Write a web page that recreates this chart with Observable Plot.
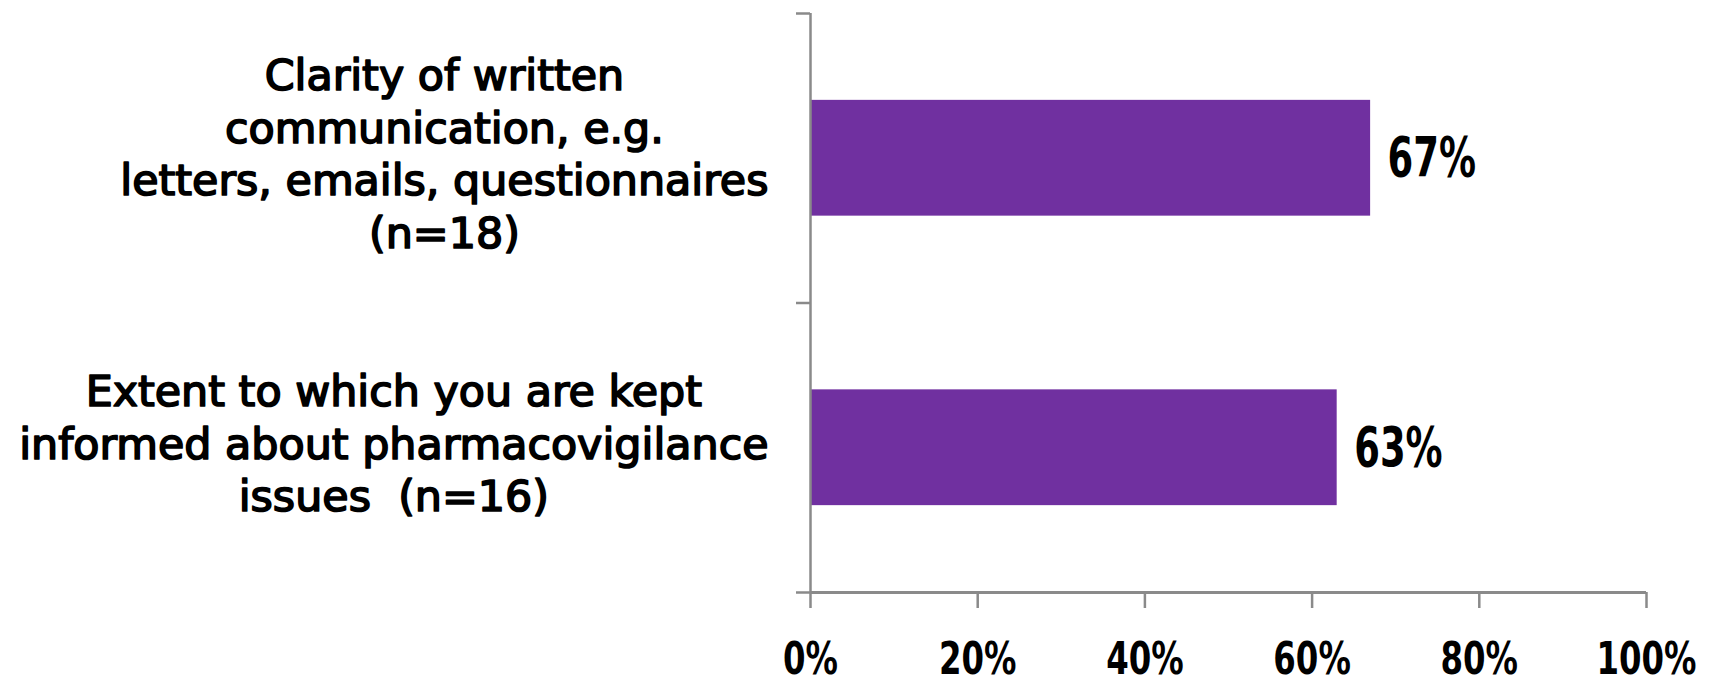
<!DOCTYPE html>
<html>
<head>
<meta charset="utf-8">
<script src="https://cdn.jsdelivr.net/npm/d3@7"></script>
<script src="https://cdn.jsdelivr.net/npm/@observablehq/plot@0.6"></script>
<style>
  html, body { margin: 0; padding: 0; background: #fff; }
</style>
</head>
<body>
<div id="chart"></div>
<script>
// Survey items (one per row) and the share of respondents for each
const categories = [
  "Clarity of written\ncommunication, e.g.\nletters, emails, questionnaires\n(n=18)",
  "Extent to which you are kept\ninformed about pharmacovigilance\nissues  (n=16)"
];
const shares = [0.67, 0.63];
const xTicks = [0, 0.2, 0.4, 0.6, 0.8, 1];

const rows = categories.map((label, i) => ({label, share: shares[i], slot: i}));
const pct = d3.format(".0%");

const purple = "#7030A0";
const axisGray = "#8a8a8a";
const barInset = 0.3;          // gap above/below each bar, in row units
const labelRightEdge = 42;     // px between the label block and the axis

const chart = Plot.plot({
  width: 1715,
  height: 684,
  marginLeft: 810,
  marginRight: 69,
  marginTop: 13,
  marginBottom: 92,
  style: {fontFamily: "DejaVu Sans", background: "#fff", color: "#000", overflow: "visible"},
  x: {domain: [0, 1]},
  y: {domain: [0, categories.length], reverse: true},
  marks: [
    Plot.rect(rows, {
      x1: 0, x2: "share",
      y1: d => d.slot + barInset, y2: d => d.slot + 1 - barInset,
      fill: purple
    }),
    Plot.ruleX([0], {stroke: axisGray, strokeWidth: 2.5}),
    Plot.ruleY([categories.length], {stroke: axisGray, strokeWidth: 3}),
    // row separators on the category axis
    Plot.axisY({
      ticks: d3.range(categories.length + 1),
      tickSize: 14, tickFormat: () => "",
      stroke: axisGray, strokeWidth: 2.5, label: null
    }),
    Plot.axisX({
      ticks: xTicks, tickSize: 16, tickPadding: 34, tickFormat: pct,
      stroke: axisGray, strokeWidth: 2.5,
      fontSize: 45, fontWeight: "bold", fill: "#000", label: null
    }),
    // value labels (second-to-last layer)
    Plot.text(rows, {
      x: "share", y: d => d.slot + 0.5, text: d => pct(d.share),
      textAnchor: "start", dx: 17, fontSize: 56, fontWeight: "bold",
      fill: "#000"
    }),
    // category labels (last layer)
    Plot.text(rows, {
      y: d => d.slot + 0.5, text: "label", frameAnchor: "left",
      textAnchor: "middle", lineHeight: 1.23, fontSize: 42.8, dy: -6,
      fill: "#000", stroke: "#000", strokeWidth: 1.7
    })
  ]
});

document.getElementById("chart").appendChild(chart);

const layers = chart.querySelectorAll(":scope > g");
const valueLayer = layers[layers.length - 2];
const labelLayer = layers[layers.length - 1];

// Narrow the numeric labels horizontally
function squeeze(texts, k) {
  texts.forEach(t => {
    const tr = t.getAttribute("transform") || "";
    t.setAttribute("transform", `${tr} scale(${k},1)`);
  });
}
squeeze(chart.querySelectorAll('g[aria-label="x-axis tick label"] text'), 0.72);
squeeze(valueLayer.querySelectorAll("text"), 0.66);

// Each label block sits flush against the axis, its lines centred within the block
labelLayer.querySelectorAll("text").forEach(t => {
  const w = t.getBBox().width;
  const shift = -labelRightEdge - w / 2;
  t.setAttribute("transform", `translate(${shift},0) ` + (t.getAttribute("transform") || ""));
});
</script>
</body>
</html>
